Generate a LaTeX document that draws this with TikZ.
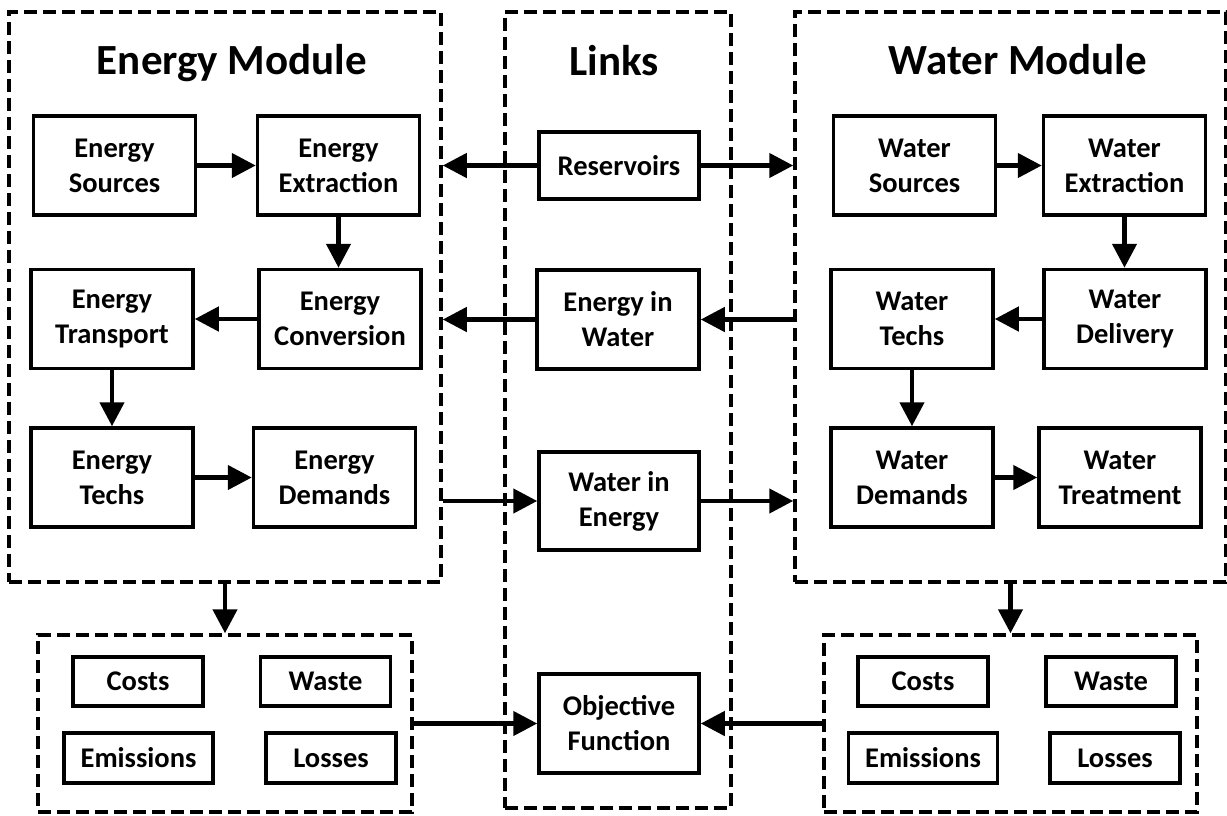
\documentclass[tikz,border=0pt]{standalone}
\usepackage{fontspec}
\setmainfont{Carlito}
\usetikzlibrary{arrows.meta}
\begin{document}
\begin{tikzpicture}[x=1pt,y=-1pt,
  box/.style={draw,line width=3.5pt,inner sep=0pt,align=center,font=\fontsize{28.5}{35}\selectfont\bfseries,minimum width=162pt,minimum height=99pt},
  sbox/.style={draw,line width=3.5pt,inner sep=0pt,align=center,font=\fontsize{28.5}{35}\selectfont\bfseries,minimum width=130pt,minimum height=49pt},
  cont/.style={draw,line width=3.5pt,dash pattern=on 13pt off 6pt,inner sep=0pt},
  title/.style={anchor=base,font=\fontsize{43}{50}\selectfont\bfseries,inner sep=0pt},
  arr/.style={line width=4.5pt,-{Triangle[length=24pt,width=24pt]}}]
\useasboundingbox (0,0) rectangle (1227,815);
% containers
\node[cont,minimum width=432pt,minimum height=570pt] (emod) at (225,297) {};
\node[cont,minimum width=226pt,minimum height=796pt] (links) at (618,410) {};
\node[cont,minimum width=431pt,minimum height=570pt] (wmod) at (1010.5,297) {};
\node[cont,minimum width=374pt,minimum height=177pt] (eout) at (225,723.5) {};
\node[cont,minimum width=373pt,minimum height=177pt] (wout) at (1010.5,723.5) {};
% titles
\node[title] (etitle) at (232,74) {Energy Module};
\node[title] (ltitle) at (614,75) {Links};
\node[title] (wtitle) at (1018,74) {Water Module};
% energy boxes
\node[box] (eSrc) at (114.5,165.5) {Energy\\Sources};
\node[box] (eExt) at (338.5,165.5) {Energy\\Extraction};
\node[box] (eTra) at (112,319) {Energy\\Transport};
\node[box] (eCon) at (340,319) {Energy\\Conversion};
\node[box] (eTec) at (112,477.5) {Energy\\Techs};
\node[box] (eDem) at (334.5,477.5) {Energy\\Demands};
% water boxes
\node[box] (wSrc) at (914.5,165.5) {Water\\Sources};
\node[box] (wExt) at (1124.5,165.5) {Water\\Extraction};
\node[box] (wTec) at (912,319) {Water\\Techs};
\node[box] (wDel) at (1125,319) {Water\\Delivery};
\node[box] (wDem) at (912,477.5) {Water\\Demands};
\node[box] (wTre) at (1120,477.5) {Water\\Treatment};
% links boxes
\node[box,minimum width=160pt,minimum height=67pt] (res) at (619,165.5) {Reservoirs};
\node[box] (eiw) at (618,319.5) {Energy in\\Water};
\node[box,minimum width=160pt,minimum height=98pt] (wie) at (619,501) {Water in\\Energy};
\node[box,minimum width=160pt] (obj) at (619,723.5) {Objective\\Function};
% output boxes
\node[sbox] (eCost) at (138,681.5) {Costs};
\node[sbox] (eWaste) at (325.5,681.5) {Waste};
\node[sbox,minimum width=149pt,minimum height=50pt] (eEmi) at (138.5,758) {Emissions};
\node[sbox,minimum height=50pt] (eLoss) at (331,758) {Losses};
\node[sbox] (wCost) at (923,681.5) {Costs};
\node[sbox] (wWaste) at (1111,681.5) {Waste};
\node[sbox,minimum width=149pt,minimum height=50pt] (wEmi) at (923,758) {Emissions};
\node[sbox,minimum height=50pt] (wLoss) at (1115,758) {Losses};
% energy arrows
\draw[arr] (eSrc.east) -- (eExt.west);
\draw[arr] (eExt.south) -- (eExt.south |- eCon.north);
\draw[arr] (eCon.west) -- (eCon.west -| eTra.east);
\draw[arr] (eTra.south) -- (eTec.north);
\draw[arr] (eTec.east) -- (eDem.west);
% water arrows
\draw[arr] (wSrc.east) -- (wExt.west);
\draw[arr] (wExt.south) -- (wExt.south |- wDel.north);
\draw[arr] (wDel.west) -- (wDel.west -| wTec.east);
\draw[arr] (wTec.south) -- (wDem.north);
\draw[arr] (wDem.east) -- (wDem.east -| wTre.west);
% link arrows
\draw[arr] (res.west) -- (res.west -| emod.east);
\draw[arr] (res.east) -- (res.east -| wmod.west);
\draw[arr] (eiw.east -| wmod.west) -- (eiw.east);
\draw[arr] (eiw.west) -- (eiw.west -| emod.east);
\draw[arr] (wie.west -| emod.east) -- (wie.west);
\draw[arr] (wie.east) -- (wie.east -| wmod.west);
\draw[arr] (obj.west -| eout.east) -- (obj.west);
\draw[arr] (obj.east -| wout.west) -- (obj.east);
% module to outputs
\draw[arr] (emod.south) -- (eout.north);
\draw[arr] (wmod.south) -- (wout.north);
\end{tikzpicture}
\end{document}
